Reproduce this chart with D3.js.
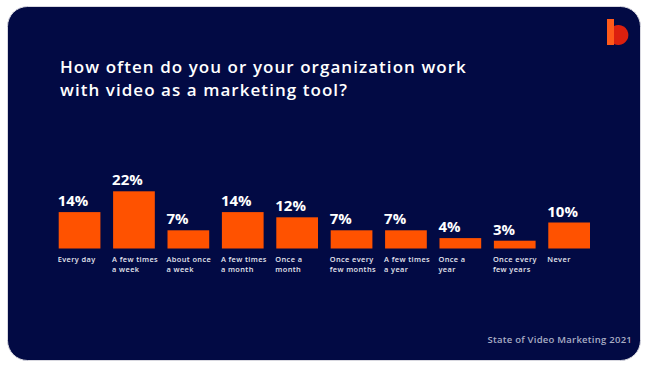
<!DOCTYPE html>
<html>
<head>
<meta charset="utf-8">
<script src="https://cdn.jsdelivr.net/npm/d3@7"></script>
<style>
  body { margin: 0; background: #ffffff; }
  svg { display: block; }
</style>
</head>
<body>
<svg id="chart" width="650" height="367"></svg>
<script>
// Survey answers (State of Video Marketing 2021)
const categories = [
    ["Every day"],
    ["A few times", "a week"],
    ["About once", "a week"],
    ["A few times", "a month"],
    ["Once a", "month"],
    ["Once every", "few months"],
    ["A few times", "a year"],
    ["Once a", "year"],
    ["Once every", "few years"],
    ["Never"]
];
const values = [14, 22, 7, 14, 12, 7, 7, 4, 3, 10];

const titleLines = [
    "How often do you or your organization work",
    "with video as a marketing tool?"
];
const sourceText = "State of Video Marketing 2021";

const svg = d3.select("#chart");
const font = "'Open Sans', sans-serif";

// card background
svg.append("rect")
    .attr("x", 7.5)
    .attr("y", 6.5)
    .attr("width", 633)
    .attr("height", 354)
    .attr("rx", 20)
    .attr("fill", "#020a44")
    .attr("stroke", "#d8d8e0")
    .attr("stroke-width", 1);

// logo "b"
const logo = svg.append("g").attr("transform", "translate(607,19)");
logo.append("rect")
    .attr("width", 7)
    .attr("height", 26)
    .attr("fill", "#ff5a1a");
logo.append("path")
    .attr("d", "M3,8 A10,10 0 1,1 3,26 Z")
    .attr("transform", "translate(4,-1)")
    .attr("fill", "#e8220c")
    .attr("opacity", 0.95);

// title
svg.append("g")
    .selectAll("text")
    .data(titleLines)
    .enter().append("text")
    .attr("x", 60)
    .attr("y", (d, i) => 72.5 + i * 23.3)
    .attr("fill", "#ffffff")
    .attr("font-family", font)
    .attr("font-weight", 600)
    .attr("font-size", 17)
    .attr("letter-spacing", 1.05)
    .text(d => d);

// scales
const x = d3.scaleBand()
    .domain(d3.range(values.length))
    .range([58.7, 590])
    .paddingInner(0.233)
    .paddingOuter(0);

const y = d3.scaleLinear()
    .domain([0, 22])
    .range([248.5, 191.3]);

// bars
svg.append("g")
    .selectAll("rect")
    .data(values)
    .enter().append("rect")
    .attr("x", (d, i) => x(i))
    .attr("y", d => y(d))
    .attr("width", x.bandwidth())
    .attr("height", d => y(0) - y(d))
    .attr("fill", "#ff5200");

// value labels
svg.append("g")
    .selectAll("text")
    .data(values)
    .enter().append("text")
    .attr("x", (d, i) => x(i) - 1)
    .attr("y", d => y(d) - 6)
    .attr("fill", "#ffffff")
    .attr("font-family", font)
    .attr("font-weight", 700)
    .attr("font-size", 15)
    .text(d => d + "%");

// category labels, one text per line so they do not overlap
svg.append("g")
    .selectAll("g")
    .data(categories)
    .enter().append("g")
    .attr("transform", (d, i) => `translate(${x(i) - 1},262)`)
    .selectAll("text")
    .data(d => d)
    .enter().append("text")
    .attr("y", (d, i) => i * 10)
    .attr("fill", "#e6e7ef")
    .attr("font-family", font)
    .attr("font-weight", 600)
    .attr("font-size", 7.4)
    .attr("letter-spacing", 0.4)
    .text(d => d);

// source note
svg.append("text")
    .attr("x", 632)
    .attr("y", 343)
    .attr("text-anchor", "end")
    .attr("fill", "#a9adc4")
    .attr("font-family", font)
    .attr("font-weight", 600)
    .attr("font-size", 9.5)
    .attr("letter-spacing", 0.25)
    .text(sourceText);
</script>
</body>
</html>
